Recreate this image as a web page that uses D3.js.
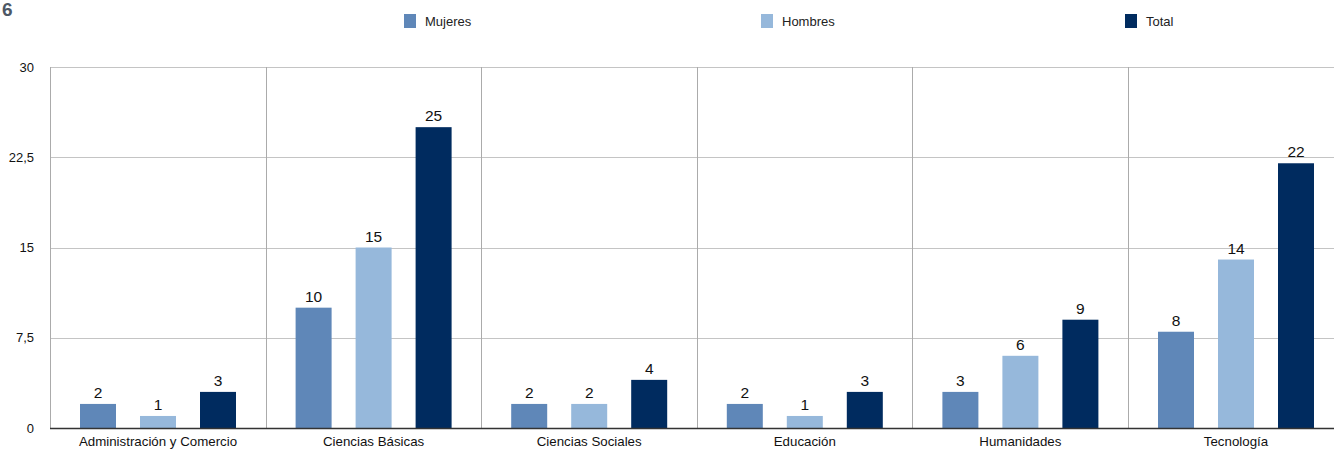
<!DOCTYPE html>
<html><head><meta charset="utf-8">
<script src="https://cdn.jsdelivr.net/npm/d3@7"></script>
<style>
html,body{margin:0;padding:0;background:#fff;overflow:hidden}
text{font-family:"Liberation Sans",Arial,Helvetica,sans-serif}
</style></head><body>
<svg id="c" width="1334" height="449"></svg>
<script>
const categories = ["Administración y Comercio","Ciencias Básicas","Ciencias Sociales","Educación","Humanidades","Tecnología"];
const seriesNames = ["Mujeres","Hombres","Total"];
const mujeres = [2,10,2,2,3,8];
const hombres = [1,15,2,1,6,14];
const total = [3,25,4,3,9,22];
const yTicks = [0,7.5,15,22.5,30];
const yTickLabels = ["0","7,5","15","22,5","30"];
const colors = ["#5f87b8","#96b8db","#002b5f"];

(function(){
const series = [mujeres, hombres, total];
const svg = d3.select("#c");
const mLeft = 50, mTop = 67, mBottom = 428;
const bandW = (1128 - 50) / 5;
const x0 = d3.scaleBand().domain(categories).range([mLeft, mLeft + bandW * categories.length]).paddingInner(0).paddingOuter(0);
const x1 = d3.scaleBand().domain(seriesNames).range([30, 186]).paddingInner(0.4).paddingOuter(0);
const y = d3.scaleLinear().domain([0, 30]).range([mBottom, mTop]);

svg.append("text").attr("x", 2).attr("y", 16).attr("text-anchor", "start")
  .attr("font-size", 19).attr("font-weight", "bold").attr("fill", "#4d5866").text("6");

svg.append("g").selectAll("line").data(yTicks.slice(1)).join("line")
  .attr("x1", mLeft).attr("x2", 1334).attr("y1", d => Math.round(y(d)) + 0.5).attr("y2", d => Math.round(y(d)) + 0.5)
  .attr("stroke", "#c4c4c4").attr("stroke-width", 1.2);

svg.append("g").selectAll("line").data(categories).join("line")
  .attr("x1", d => Math.round(x0(d)) + 0.5).attr("x2", d => Math.round(x0(d)) + 0.5)
  .attr("y1", mTop).attr("y2", mBottom)
  .attr("stroke", "#ababab").attr("stroke-width", 1);

svg.append("g").selectAll("text").data(yTicks).join("text")
  .attr("x", 34).attr("y", d => y(d)).attr("dy", "0.35em").attr("text-anchor", "end")
  .attr("font-size", 13).attr("fill", "#111").text((d, i) => yTickLabels[i]);

const groups = svg.append("g").selectAll("g").data(categories).join("g")
  .attr("transform", d => `translate(${x0(d)},0)`);
const rows = (c, ci) => seriesNames.map((s, si) => ({s, v: series[si][ci], si}));
groups.selectAll("rect").data(rows).join("rect")
  .attr("x", d => x1(d.s)).attr("width", x1.bandwidth())
  .attr("y", d => y(d.v)).attr("height", d => y(0) - y(d.v))
  .attr("fill", d => colors[d.si]);
groups.selectAll("text.v").data(rows).join("text")
  .attr("class", "v")
  .attr("x", d => x1(d.s) + x1.bandwidth() / 2).attr("y", d => y(d.v) - 6)
  .attr("text-anchor", "middle").attr("font-size", 15.5).attr("fill", "#111").text(d => d.v);

svg.append("line").attr("x1", mLeft).attr("x2", 1334).attr("y1", mBottom + 0.5).attr("y2", mBottom + 0.5)
  .attr("stroke", "#333").attr("stroke-width", 1.6);

svg.append("g").selectAll("text").data(categories).join("text")
  .attr("x", d => x0(d) + x1("Hombres") + x1.bandwidth() / 2).attr("y", 446)
  .attr("text-anchor", "middle").attr("font-size", 13.3).attr("fill", "#111").text(d => d);

const legX = [404, 761, 1125];
const leg = svg.append("g").selectAll("g").data(seriesNames).join("g")
  .attr("transform", (d, i) => `translate(${legX[i]},14)`);
leg.append("rect").attr("width", 12).attr("height", 14).attr("fill", (d, i) => colors[i]);
leg.append("text").attr("x", 21).attr("y", 12).attr("font-size", 13).attr("fill", "#222").text(d => d);
})();
</script>
</body></html>
